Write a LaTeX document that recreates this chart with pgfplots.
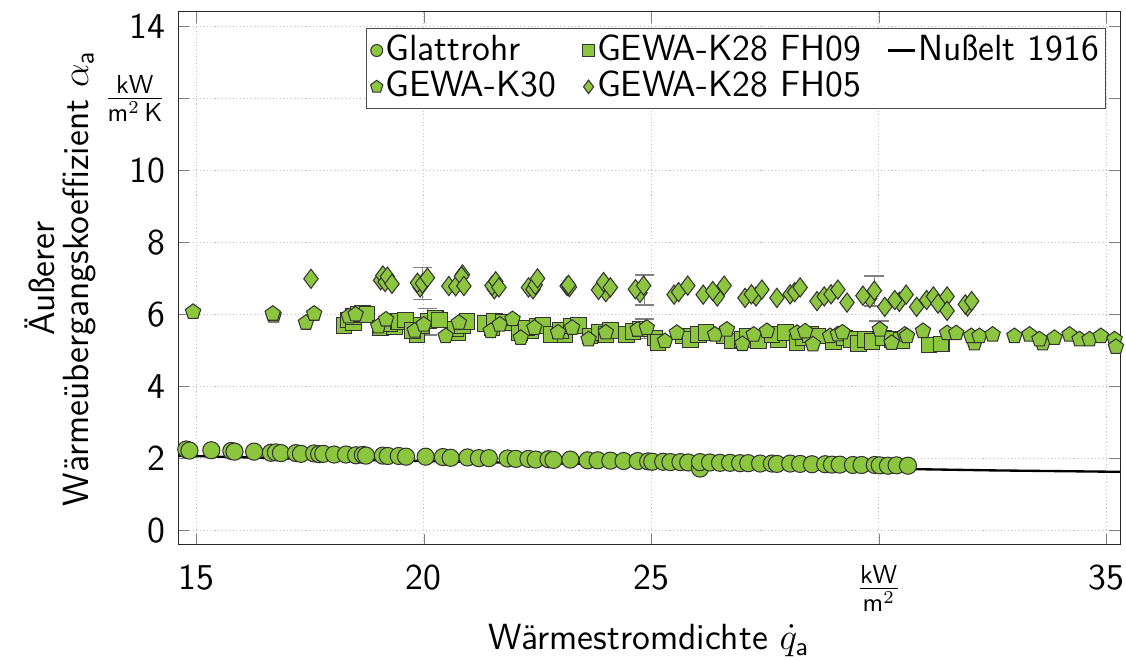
\documentclass[border=0pt]{standalone}
\usepackage{pgfplots}
\pgfplotsset{compat=1.18}
\renewcommand{\familydefault}{\sfdefault}
\definecolor{gruen}{RGB}{140,198,63}
\pgfplotsset{
  messpunkt/.style={only marks, forget plot,
    mark options={solid, fill=gruen, draw=black!80, line width=0.4pt}},
  legpunkt/.style={only marks,
    mark options={solid, fill=gruen, draw=black!80, line width=0.4pt}},
}

\begin{document}
\fontsize{14}{16}\selectfont
\begin{tikzpicture}
\begin{axis}[
  width=362.3pt, height=205pt, scale only axis,
  xmin=14.6, xmax=35.3, ymin=-0.4, ymax=14.4,
  xtick={15,20,25,30,35},
  xticklabels={15,20,25,{\raisebox{-5.8pt}[\dimexpr\height-5.8pt\relax][0pt]{$\frac{\mathsf{kW}}{\mathsf{m}^2}$}},35},
  xticklabel style={yshift=-3pt, inner xsep=0pt},
  ytick={0,2,4,6,8,10,12,14},
  yticklabels={0,2,4,6,8,10,{$\frac{\mathsf{kW}}{\mathsf{m}^2\,\mathsf{K}}$},14},
  grid=major, grid style={densely dotted, black!25},
  axis line style={black!85},
  xlabel={Wärmestromdichte $\dot{q}_{\mathsf{a}}$},
  xlabel style={at={(axis description cs:0.5,0)}, anchor=base, yshift=-40.4pt, inner ysep=1pt},
  ylabel={Äußerer\\Wärmeübergangskoeffizient $\alpha_{\mathsf{a}}$},
  ylabel style={align=center, at={(axis description cs:-0.1634,0.5)}, anchor=north,
    inner ysep=0pt, font=\fontsize{14}{13}\selectfont},
  legend columns=3,
  legend cell align=left,
  legend image code/.code={\draw[mark repeat=2, mark phase=2, #1]
    plot coordinates {(0cm,0cm) (0.15cm,0cm) (0.36cm,0cm)};},
  legend style={at={(0.985,0.97)}, anchor=north east, draw=black!70,
    inner xsep=1.5pt, inner ysep=1.5pt,
    nodes={inner sep=1pt},
    /tikz/every even column/.append style={column sep=9pt}},
]

% Fehlerbalken
\addplot[draw=none, mark=none, forget plot,
  error bars/.cd, y dir=both, y explicit,
  error bar style={black!50, line width=0.6pt},
  error mark options={rotate=90, black!50, mark size=3.8pt, line width=0.6pt}]
  table[x=x, y=y, y error=e] {
x y e
19.97 6.86 0.44
24.85 6.68 0.42
29.90 6.65 0.42
20.08 5.80 0.37
24.85 5.60 0.27
30.00 5.55 0.27
};

% Nusselt 1916
\addplot[black, line width=0.9pt, forget plot] coordinates {
(14.6,2.08) (17.0,2.00) (20.0,1.93) (22.5,1.87) (25.0,1.82)
(27.5,1.77) (30.0,1.72) (32.5,1.67) (35.3,1.63)};

% Glattrohr
\addplot[messpunkt, mark=*, mark size=3.3pt] table {
14.78 2.25
14.85 2.22
15.33 2.23
15.77 2.21
15.84 2.19
16.27 2.19
16.64 2.16
16.75 2.17
16.86 2.15
17.19 2.15
17.30 2.13
17.59 2.14
17.70 2.12
17.79 2.13
18.03 2.11
18.29 2.11
18.51 2.09
18.66 2.10
18.73 2.08
19.10 2.08
19.21 2.07
19.45 2.07
19.61 2.05
20.04 2.05
20.42 2.04
20.59 2.02
20.96 2.03
21.21 2.01
21.43 2.01
21.84 2.00
22.02 1.99
22.30 1.99
22.46 1.97
22.74 1.98
22.85 1.96
23.22 1.97
23.60 1.95
23.82 1.95
24.10 1.94
24.39 1.93
24.70 1.93
24.93 1.92
25.02 1.91
25.26 1.91
25.42 1.90
25.64 1.90
25.81 1.89
26.07 1.72
26.07 1.90
26.29 1.89
26.51 1.88
26.73 1.88
26.95 1.87
27.13 1.87
27.39 1.86
27.65 1.86
27.76 1.85
28.05 1.86
28.27 1.85
28.53 1.84
28.82 1.84
28.97 1.83
29.14 1.83
29.43 1.82
29.62 1.82
29.91 1.82
30.02 1.81
30.20 1.80
30.39 1.81
30.64 1.80
};

% GEWA-K28 FH09
\addplot[messpunkt, mark=square*, mark size=3.0pt] table {
18.25 5.70
18.35 5.85
18.45 5.78
18.45 5.95
18.55 6.00
18.65 6.02
18.75 6.00
19.05 5.62
19.35 5.65
19.25 5.75
19.45 5.80
19.60 5.85
19.85 5.45
19.75 5.55
19.95 5.70
20.10 5.82
20.25 5.88
20.35 5.85
20.75 5.50
20.70 5.60
20.85 5.70
20.95 5.80
21.50 5.62
21.35 5.75
21.55 5.80
21.75 5.78
22.10 5.49
22.35 5.55
22.25 5.62
22.50 5.68
22.62 5.70
22.80 5.44
23.10 5.45
23.00 5.55
23.25 5.68
23.40 5.70
23.65 5.40
23.85 5.50
24.00 5.44
24.10 5.55
24.45 5.44
24.60 5.52
24.75 5.60
25.08 5.35
25.15 5.22
25.70 5.40
25.86 5.31
26.04 5.44
26.20 5.50
26.60 5.40
26.77 5.26
27.00 5.30
27.10 5.40
27.35 5.26
27.80 5.30
27.65 5.45
27.95 5.50
28.20 5.22
28.35 5.35
28.50 5.45
28.65 5.40
29.00 5.25
29.25 5.35
29.40 5.30
29.55 5.20
29.70 5.30
29.85 5.25
30.10 5.35
30.30 5.30
30.50 5.28
31.10 5.15
31.37 5.18
};

% GEWA-K30
\addplot[messpunkt, mark=pentagon*, mark size=3.1pt] table {
14.93 6.07
16.70 5.97
16.68 6.02
17.41 5.77
17.59 6.02
18.35 5.95
18.50 6.00
19.00 5.67
19.17 5.86
19.80 5.55
20.00 5.72
20.48 5.40
20.77 5.77
21.47 5.54
21.67 5.72
21.95 5.87
22.13 5.35
22.43 5.63
22.95 5.50
23.26 5.63
23.62 5.31
24.00 5.50
24.70 5.58
24.90 5.63
25.30 5.26
25.56 5.49
26.40 5.44
26.66 5.58
27.00 5.18
27.25 5.44
27.54 5.54
28.20 5.49
28.38 5.53
28.55 5.17
28.93 5.40
29.10 5.45
29.20 5.50
30.02 5.58
30.28 5.21
30.57 5.44
30.62 5.40
30.97 5.54
31.50 5.48
31.70 5.48
32.10 5.20
32.03 5.40
32.21 5.40
32.50 5.44
32.98 5.40
33.31 5.44
33.60 5.20
33.53 5.31
33.86 5.35
34.19 5.44
34.41 5.31
34.63 5.31
34.88 5.40
35.18 5.31
35.21 5.10
};

% GEWA-K28 FH05
\addplot[messpunkt, mark=diamond*, mark size=3.7pt] table {
17.52 6.99
19.05 6.95
19.10 7.08
19.15 6.90
19.20 7.05
19.30 6.85
19.92 6.75
19.86 6.88
19.97 6.86
20.08 7.02
20.55 6.79
20.70 6.78
20.85 7.11
20.83 7.06
20.88 6.79
21.55 6.70
21.50 6.80
21.58 6.92
21.65 6.75
22.30 6.75
22.40 6.70
22.45 6.82
22.50 7.00
23.15 6.79
23.20 6.76
23.18 6.82
24.00 6.62
23.84 6.68
23.95 6.90
24.10 6.75
24.75 6.60
24.65 6.70
24.83 6.80
25.50 6.55
25.60 6.62
25.80 6.80
26.45 6.50
26.14 6.55
26.35 6.65
26.60 6.80
27.30 6.50
27.06 6.46
27.20 6.56
27.43 6.69
27.76 6.46
28.05 6.56
28.15 6.62
28.27 6.75
28.64 6.37
28.80 6.50
28.95 6.56
29.10 6.69
29.30 6.33
29.80 6.45
29.65 6.52
29.90 6.66
30.13 6.21
30.45 6.35
30.35 6.40
30.60 6.55
30.83 6.21
31.05 6.40
31.20 6.50
31.30 6.30
31.50 6.50
31.50 6.10
31.95 6.22
31.90 6.28
32.04 6.37
};

% Legende
\addlegendimage{legpunkt, mark=*, mark size=2.3pt}
\addlegendentry{Glattrohr}
\addlegendimage{legpunkt, mark=square*, mark size=2.3pt}
\addlegendentry{GEWA-K28 FH09}
\addlegendimage{black, line width=0.8pt}
\addlegendentry{Nußelt 1916}
\addlegendimage{legpunkt, mark=pentagon*, mark size=2.5pt}
\addlegendentry{GEWA-K30}
\addlegendimage{legpunkt, mark=diamond*, mark size=2.6pt}
\addlegendentry{GEWA-K28 FH05}
\end{axis}
% Seitenraender
\path (current axis.south west) ++(-68.5pt,0pt);
\path (current axis.north east) ++(2.3pt,4.6pt);
\end{tikzpicture}
\end{document}
